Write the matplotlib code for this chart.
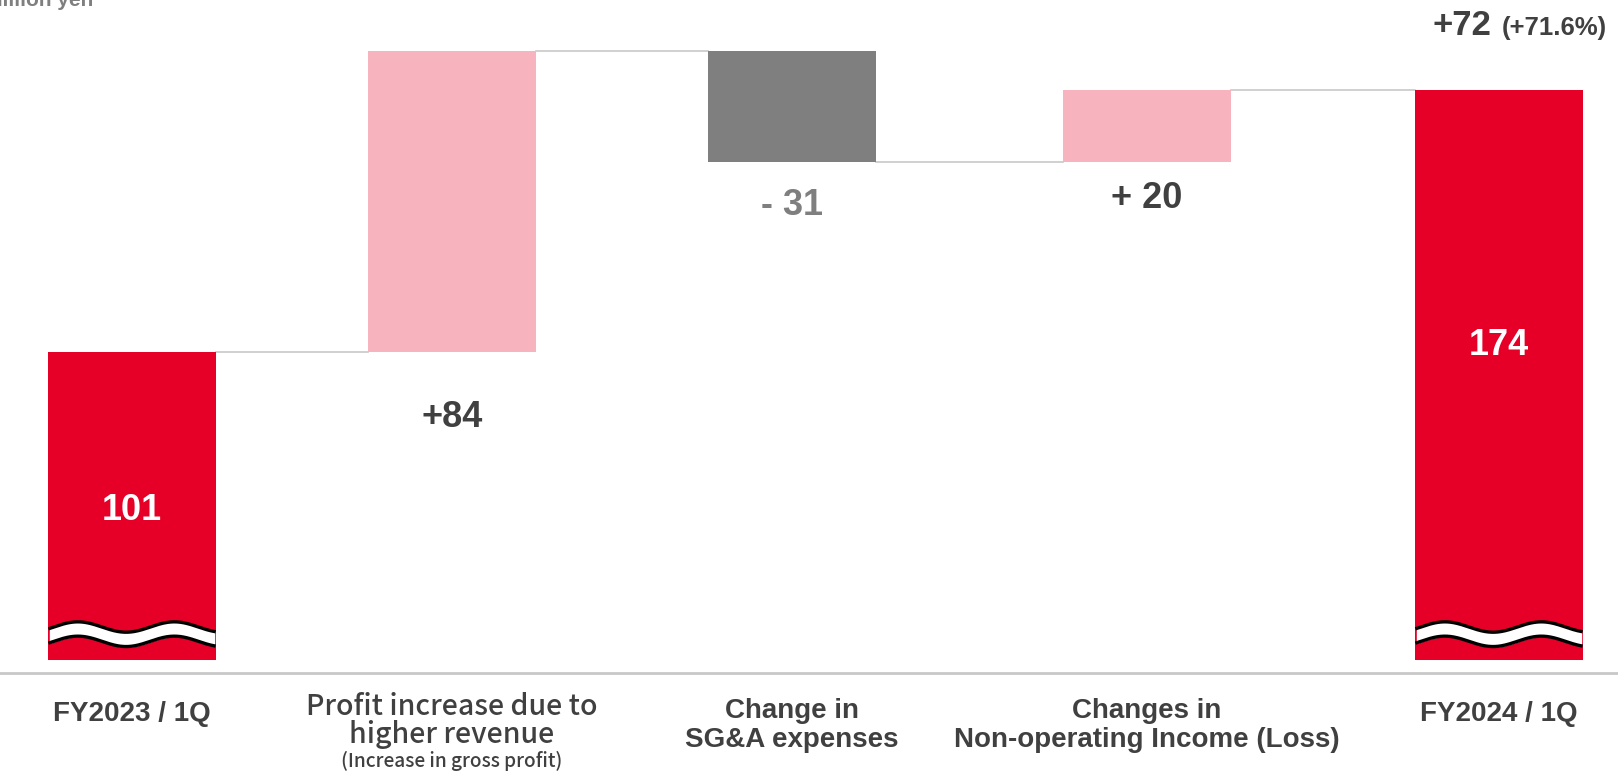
import numpy as np
import matplotlib.pyplot as plt
from matplotlib.lines import Line2D

# Ordinary profit bridge, FY2023/1Q -> FY2024/1Q (million yen)
categories = [
    ["FY2023 / 1Q"],
    ["Profit increase due to", "higher revenue"],
    ["Change in", "SG&A expenses"],
    ["Changes in", "Non-operating Income (Loss)"],
    ["FY2024 / 1Q"],
]
sub_note = "(Increase in gross profit)"
start_value = 101
changes = [84, -31, 20]
end_value = 174
change_labels = ["+84", "- 31", "+ 20"]
total_change = "+72"
total_change_pct = "(+71.6%)"

RED = "#E60028"
PINK = "#F8B4BE"
GREY = "#7F7F7F"
DARK = "#404040"
LINE = "#C8C8C8"

W, H = 1618, 774
fig = plt.figure(figsize=(W / 100, H / 100), dpi=100)
ax = fig.add_axes([0, 0.1473, 1, 0.8424])
ax.set_xlim(0, W)
ax.set_ylim(15, 197)
ax.axis("off")

# bar centres and width in pixel units along x
xpos = [132, 452, 792, 1147, 1499]
w = 168

levels = np.cumsum([start_value] + changes)
bottoms = [0, levels[0], levels[2], levels[2], 0]
tops = [start_value, levels[1], levels[1], levels[3], end_value]
colors = [RED, PINK, GREY, PINK, RED]
for xi, b, t, c in zip(xpos, bottoms, tops, colors):
    ax.bar(xi, t - b, bottom=b, width=w, color=c, zorder=2)

# connectors between neighbouring bars
conn = [start_value, levels[1], levels[2], end_value]
for i, y in enumerate(conn):
    ax.plot([xpos[i] + w / 2, xpos[i + 1] - w / 2], [y, y], color=LINE, lw=1.2, zorder=1)

# wavy break marks on the two total bars
for xi in (xpos[0], xpos[4]):
    x0, x1 = xi - w / 2 + 2, xi + w / 2 - 2
    xs = np.linspace(x0, x1, 300)
    period = (x1 - x0) / 1.7
    mid = 22.2 + 1.45 * np.cos(2 * np.pi * (xs - x0 - 0.17 * (x1 - x0)) / period)
    ax.fill_between(xs, mid - 2.0, mid + 2.0, color="white", zorder=3)
    ax.plot(xs, mid - 2.0, color="black", lw=2.4, zorder=4)
    ax.plot(xs, mid + 2.0, color="black", lw=2.4, zorder=4)

num_font = dict(family="Liberation Sans", weight="bold")
ax.text(xpos[0], 56.6, str(start_value), color="white", fontsize=26, ha="center", va="center", **num_font)
ax.text(xpos[4], 102.7, str(end_value), color="white", fontsize=26, ha="center", va="center", **num_font)
ax.text(xpos[1], 82.6, change_labels[0], color=DARK, fontsize=26, ha="center", va="center", **num_font)
ax.text(xpos[2], 141.8, change_labels[1], color=GREY, fontsize=26, ha="center", va="center", **num_font)
ax.text(xpos[3], 143.7, change_labels[2], color=DARK, fontsize=26, ha="center", va="center", **num_font)


def fy(px):
    return 1 - px / H


# overall change in the top right corner
fig.text(1432 / W, fy(35), total_change, color=DARK, fontsize=25, ha="left", va="baseline", **num_font)
fig.text(1502 / W, fy(35), total_change_pct, color=DARK, fontsize=18.5, ha="left", va="baseline", **num_font)

fig.text(93 / W, fy(6), "million yen", color=GREY, fontsize=15, ha="right", va="baseline", **num_font)

# category axis line and labels
fig.add_artist(Line2D([0, 1], [fy(673), fy(673)], color=LINE, lw=2))
for xi, lines in zip(xpos, categories):
    if len(lines) == 1:
        fig.text(xi / W, fy(721), lines[0], color=DARK, fontsize=20, ha="center", va="baseline", **num_font)
    elif lines[0].startswith("Profit"):
        for ln, base in zip(lines, (715, 743)):
            fig.text(xi / W, fy(base), ln, color=DARK, fontsize=20.5, ha="center", va="baseline",
                     family="Noto Sans CJK JP", weight="medium")
        fig.text(xi / W, fy(767), sub_note, color=DARK, fontsize=13.8, ha="center", va="baseline",
                 family="Noto Sans CJK JP", weight="medium")
    else:
        for ln, base in zip(lines, (718, 747)):
            fig.text(xi / W, fy(base), ln, color=DARK, fontsize=20, ha="center", va="baseline", **num_font)

fig.savefig("out.png", dpi=100)
